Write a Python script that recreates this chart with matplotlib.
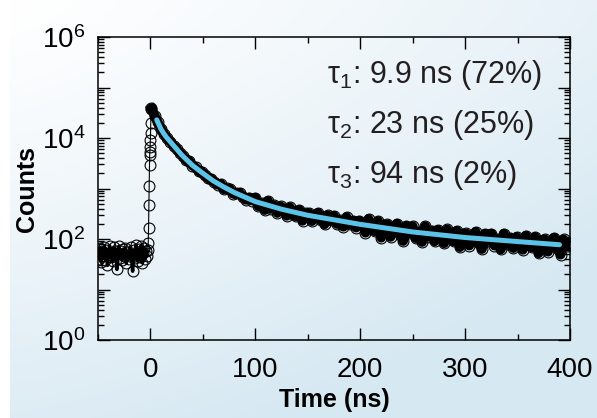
import numpy as np
import matplotlib
matplotlib.use("Agg")
import matplotlib.pyplot as plt
from matplotlib.ticker import FixedLocator, FuncFormatter, LogLocator, MultipleLocator, NullFormatter

plt.rcParams["font.family"] = ["Liberation Sans", "DejaVu Sans"]
plt.rcParams["mathtext.fontset"] = "custom"
plt.rcParams["mathtext.rm"] = "Liberation Sans"
plt.rcParams["mathtext.it"] = "Liberation Sans:italic"
plt.rcParams["mathtext.bf"] = "Liberation Sans:bold"

# --- data ---
# background before the pulse, 1 ns channels from -50 ns
bg_counts = [52, 41, 66, 35, 58, 47, 70, 39, 61, 30, 49, 74, 44, 56, 36, 69, 48, 59, 25, 53,
             72, 42, 57, 38, 63, 46, 66, 33, 55, 50, 40, 70, 45, 23, 60, 43, 76, 51, 37, 62,
             45, 72, 34, 52, 65, 40, 58, 47]
bg_time = np.arange(-50, -50 + len(bg_counts))

# rising edge of the pulse
rise_time = [-2.4, -2.1, -1.8, -1.5, -1.2, -0.9, -0.7, -0.5, -0.3, -0.1, 0.1, 0.3, 0.6]
rise_counts = [60, 83, 166, 468, 1100, 2950, 4570, 5370, 6760, 9120, 12300, 19500, 38900]

# decay, 3 ns channels from 1 ns
decay_counts = [37600, 27700, 20500, 15400, 11900, 9780, 8450, 7050, 6130, 5060,
                4390, 3610, 3490, 2830, 2630, 2200, 2110, 1840, 1590, 1550,
                1340, 1190, 1240, 966, 1010, 961, 782, 815, 827, 676,
                596, 661, 578, 659, 444, 512, 374, 568, 399, 463,
                328, 444, 388, 288, 423, 313, 281, 375, 229, 321,
                326, 226, 293, 328, 234, 195, 295, 234, 288, 198,
                234, 175, 272, 195, 232, 168, 231, 208, 133, 249,
                163, 142, 227, 106, 189, 195, 110, 171, 202, 123,
                91, 182, 130, 180, 104, 139, 87, 179, 111, 147,
                90, 151, 128, 82, 155, 103, 90, 145, 69, 123,
                129, 74, 116, 139, 85, 63, 127, 92, 128, 74,
                98, 62, 128, 80, 106, 66, 110, 94, 61, 117,
                77, 68, 110, 52, 93, 99, 56, 88, 106, 66,
                49, 98, 72, 84]
decay_time = np.arange(1, 1 + 3 * len(decay_counts), 3)

# tri-exponential fit
fit_time = [6, 8, 10, 12, 15, 20, 25, 30, 40, 50, 60, 70, 80, 90, 100, 125, 150, 175, 200,
            250, 300, 350, 390]
fit_counts = [22900, 18600, 15100, 12900, 10500, 7940, 6030, 4570, 2880, 2000, 1410, 1070,
              832, 676, 550, 389, 295, 240, 195, 138, 107, 89, 77]

labels = [r"τ$_1$: 9.9 ns (72%)", r"τ$_2$: 23 ns (25%)", r"τ$_3$: 94 ns (2%)"]

time = np.concatenate([bg_time, rise_time, decay_time])
counts = np.concatenate([bg_counts, rise_counts, decay_counts])

fig = plt.figure(figsize=(5.97, 4.18), dpi=100)

# light blue gradient panel behind everything
bg = fig.add_axes([10 / 597, 0, 587 / 597, 1], zorder=-5)
xx, yy = np.meshgrid(np.linspace(0, 1, 300), np.linspace(0, 1, 200))
w = np.clip(0.55 * xx ** 1.3 + 0.8 * yy ** 1.3, 0, 1) ** 0.9
white = np.array([1.0, 1.0, 1.0])
blue = np.array([0.84, 0.91, 0.95])
img = white[None, None, :] * (1 - w[..., None]) + blue[None, None, :] * w[..., None]
bg.imshow(img, aspect="auto", extent=[0, 1, 1, 0])
bg.axis("off")

ax = fig.add_axes([98 / 597, 78 / 418, 472 / 597, 303 / 418])
ax.patch.set_alpha(0)

ax.plot(decay_time, decay_counts, color="k", lw=7.0, zorder=2)
ax.plot(bg_time, bg_counts, color="k", lw=2.5, zorder=2)
ax.plot(time, counts, color="k", lw=0.8, zorder=2)
ax.plot(time, counts, "o", mfc="none", mec="k", ms=7.8, mew=0.8, zorder=3)
ax.plot(fit_time, fit_counts, color="#5bc3e8", lw=3.6, solid_capstyle="round", zorder=4)

ax.set_yscale("log")
ax.set_xlim(-50, 400)
ax.set_ylim(1, 1e6)

ax.xaxis.set_major_locator(MultipleLocator(100))
ax.xaxis.set_minor_locator(MultipleLocator(50))
ax.yaxis.set_major_locator(FixedLocator([10.0 ** n for n in range(7)]))
ax.yaxis.set_major_formatter(FuncFormatter(
    lambda v, p: r"$10^{%d}$" % round(np.log10(v)) if round(np.log10(v)) % 2 == 0 else ""))
ax.yaxis.set_minor_locator(LogLocator(base=10, subs=np.arange(2, 10), numticks=20))
ax.yaxis.set_minor_formatter(NullFormatter())

ax.tick_params(which="both", direction="in", top=True, right=True, width=1.0, labelsize=20)
ax.tick_params(which="major", length=8.5, pad=12)
ax.tick_params(which="minor", length=4.3)
ax.tick_params(axis="y", which="major", pad=9)
for s in ax.spines.values():
    s.set_linewidth(1.1)

ax.set_xlabel("Time (ns)", fontsize=18, fontweight="bold", labelpad=4)
ax.set_ylabel("Counts", fontsize=18, fontweight="bold", labelpad=2)

for i, lab in enumerate(labels):
    ax.text(0.485, 0.848 - 0.165 * i, lab, transform=ax.transAxes, fontsize=22,
            va="baseline", ha="left", color="#231f20")

fig.savefig("out.png", dpi=100)
